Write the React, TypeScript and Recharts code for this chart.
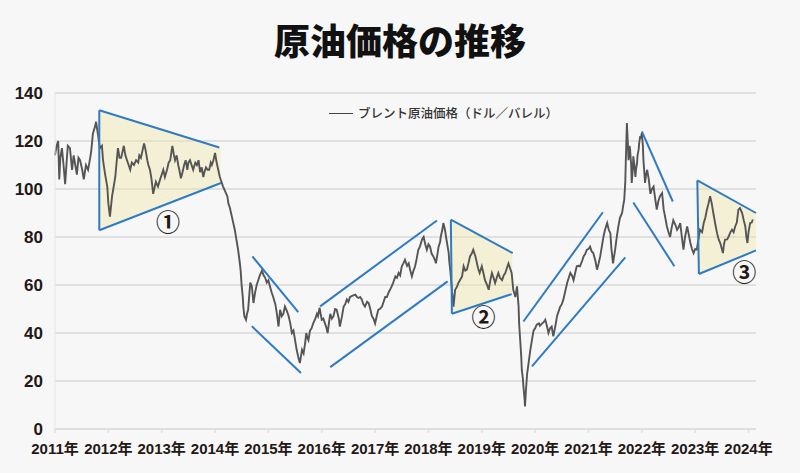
import React from "react";
import {
  ComposedChart,
  Line,
  Area,
  XAxis,
  YAxis,
  CartesianGrid,
  ReferenceLine,
  ReferenceDot,
} from "recharts";

// ブレント原油価格（ドル／バレル）: [年（小数）, 価格]
const brent2011_2013: [number, number][] = [
  [2011.0, 114], [2011.03, 118], [2011.06, 120], [2011.08, 104], [2011.1, 113], [2011.13, 117],
  [2011.16, 110], [2011.19, 102], [2011.22, 112], [2011.24, 118], [2011.28, 117], [2011.32, 108],
  [2011.35, 114], [2011.38, 110], [2011.41, 106], [2011.44, 113], [2011.47, 112], [2011.51, 108],
  [2011.54, 104], [2011.58, 110], [2011.62, 108], [2011.66, 113], [2011.68, 116], [2011.71, 123],
  [2011.75, 126], [2011.77, 128], [2011.79, 125], [2011.81, 122], [2011.84, 117], [2011.88, 118],
  [2011.9, 112], [2011.94, 106], [2011.98, 101], [2012.0, 94], [2012.03, 88.5], [2012.07, 97],
  [2012.1, 101], [2012.13, 105], [2012.15, 110], [2012.18, 117], [2012.21, 113], [2012.24, 113],
  [2012.27, 116], [2012.29, 118], [2012.32, 114], [2012.35, 112], [2012.38, 110], [2012.41, 108],
  [2012.44, 111], [2012.48, 110], [2012.52, 112], [2012.56, 111], [2012.58, 114], [2012.61, 113],
  [2012.64, 116], [2012.67, 119], [2012.7, 116], [2012.73, 112], [2012.75, 110], [2012.78, 108],
  [2012.81, 104], [2012.84, 98], [2012.87, 101], [2012.89, 103], [2012.93, 101], [2012.97, 104],
  [2013.0, 106], [2013.03, 108], [2013.06, 105], [2013.1, 108], [2013.13, 111], [2013.16, 112],
  [2013.18, 115], [2013.2, 118], [2013.23, 114], [2013.25, 112], [2013.28, 114], [2013.31, 110],
  [2013.33, 108], [2013.36, 104.5], [2013.39, 107], [2013.42, 110], [2013.45, 112], [2013.48, 108],
  [2013.5, 111], [2013.53, 112], [2013.56, 110], [2013.59, 108], [2013.63, 111], [2013.66, 110],
  [2013.69, 112], [2013.72, 107], [2013.75, 109], [2013.78, 105], [2013.8, 107], [2013.83, 109],
  [2013.86, 108], [2013.89, 108], [2013.92, 111], [2013.94, 110], [2013.97, 112],
];

const brent2014_2016: [number, number][] = [
  [2014.0, 115], [2014.03, 111], [2014.06, 108], [2014.09, 105], [2014.12, 103], [2014.15, 101],
  [2014.19, 99], [2014.23, 97], [2014.25, 94], [2014.28, 92], [2014.31, 89], [2014.34, 86],
  [2014.37, 83], [2014.4, 79], [2014.43, 75], [2014.46, 70], [2014.48, 66], [2014.5, 59.4],
  [2014.52, 55], [2014.53, 51], [2014.55, 47], [2014.58, 45.5], [2014.6, 48], [2014.62, 49.7],
  [2014.66, 61], [2014.69, 59.4], [2014.72, 52.5], [2014.75, 56.7], [2014.78, 60], [2014.81, 62],
  [2014.84, 64], [2014.88, 66], [2014.91, 64], [2014.94, 63], [2014.97, 61], [2015.0, 62],
  [2015.03, 59.4], [2015.06, 57], [2015.09, 55], [2015.13, 52], [2015.16, 48], [2015.19, 42.7],
  [2015.22, 49.7], [2015.25, 47], [2015.28, 48], [2015.31, 51], [2015.35, 49], [2015.38, 47],
  [2015.41, 44], [2015.44, 40], [2015.47, 41], [2015.5, 37], [2015.53, 33], [2015.56, 30],
  [2015.59, 27.5], [2015.63, 33], [2015.66, 31.5], [2015.69, 36], [2015.71, 40], [2015.73, 38],
  [2015.75, 37], [2015.78, 41], [2015.81, 42], [2015.84, 44], [2015.88, 46], [2015.91, 48],
  [2015.93, 47], [2015.96, 50.5], [2016.0, 45.5], [2016.03, 46], [2016.06, 44], [2016.09, 42],
  [2016.11, 40], [2016.14, 45], [2016.16, 48], [2016.19, 46], [2016.22, 47], [2016.25, 50],
  [2016.28, 49.7], [2016.32, 46], [2016.34, 42.7], [2016.38, 47], [2016.41, 51], [2016.44, 52],
  [2016.47, 54], [2016.5, 53], [2016.53, 55], [2016.57, 55.5], [2016.63, 56], [2016.66, 55],
  [2016.69, 54.6], [2016.72, 55], [2016.75, 54], [2016.78, 52], [2016.81, 51], [2016.85, 53],
  [2016.88, 52.5], [2016.91, 50], [2016.94, 47], [2016.97, 46],
];

const brent2017_2019: [number, number][] = [
  [2017.0, 44], [2017.03, 47], [2017.06, 49.7], [2017.09, 50], [2017.13, 51], [2017.16, 53],
  [2017.19, 55], [2017.22, 55], [2017.25, 56.7], [2017.28, 58], [2017.31, 59.4], [2017.34, 61],
  [2017.38, 63.6], [2017.41, 63], [2017.44, 65], [2017.47, 64], [2017.5, 67.8], [2017.53, 69],
  [2017.56, 70.5], [2017.6, 68], [2017.63, 69], [2017.66, 66], [2017.69, 63.6], [2017.72, 66],
  [2017.75, 67.8], [2017.78, 71], [2017.81, 74.7], [2017.84, 76], [2017.88, 79], [2017.91, 80],
  [2017.94, 77], [2017.97, 74.7], [2018.0, 77], [2018.03, 76], [2018.06, 73], [2018.09, 72],
  [2018.13, 70], [2018.14, 69], [2018.17, 73], [2018.19, 76], [2018.22, 78], [2018.23, 80],
  [2018.26, 83], [2018.28, 85.8], [2018.31, 83], [2018.33, 80], [2018.36, 76], [2018.38, 73.3],
  [2018.39, 70], [2018.41, 66], [2018.44, 58], [2018.47, 51], [2018.5, 58], [2018.53, 59],
  [2018.56, 60.8], [2018.59, 62], [2018.63, 63.6], [2018.66, 67.8], [2018.69, 66], [2018.72, 66.4],
  [2018.75, 69], [2018.78, 72], [2018.81, 73], [2018.84, 74.7], [2018.88, 72], [2018.91, 69],
  [2018.93, 67], [2018.96, 65], [2019.0, 67.8], [2019.03, 65], [2019.06, 62], [2019.1, 60],
  [2019.13, 58], [2019.16, 62], [2019.19, 65], [2019.22, 63], [2019.25, 60.8], [2019.28, 63],
  [2019.31, 65], [2019.34, 63], [2019.38, 62], [2019.41, 64], [2019.44, 65], [2019.47, 67],
  [2019.5, 69], [2019.53, 67], [2019.56, 65], [2019.59, 58], [2019.63, 55], [2019.66, 59.4],
  [2019.69, 51], [2019.7, 44], [2019.72, 37], [2019.74, 30], [2019.75, 24.7], [2019.77, 21],
  [2019.78, 17.8], [2019.8, 13], [2019.81, 9.4], [2019.83, 17], [2019.85, 23], [2019.88, 28],
  [2019.91, 33], [2019.94, 37], [2019.97, 41],
];

const brent2020_2022: [number, number][] = [
  [2020.0, 42], [2020.03, 43.5], [2020.07, 44], [2020.09, 43], [2020.13, 44], [2020.16, 44.5],
  [2020.19, 45.5], [2020.22, 43], [2020.25, 40], [2020.28, 42], [2020.31, 42.7], [2020.34, 38.6],
  [2020.38, 43], [2020.41, 47], [2020.44, 49], [2020.47, 51], [2020.5, 52], [2020.53, 54],
  [2020.56, 57], [2020.6, 60.8], [2020.63, 63], [2020.66, 65], [2020.69, 64], [2020.72, 62],
  [2020.75, 65], [2020.78, 67.8], [2020.81, 68], [2020.84, 67.8], [2020.88, 70], [2020.91, 72],
  [2020.94, 73], [2020.97, 74.7], [2021.0, 75], [2021.03, 76], [2021.06, 74], [2021.09, 73.3],
  [2021.13, 70], [2021.16, 66.4], [2021.19, 69], [2021.22, 72], [2021.25, 76], [2021.28, 80],
  [2021.31, 83], [2021.35, 85.8], [2021.38, 83], [2021.41, 81.6], [2021.43, 75], [2021.46, 69],
  [2021.48, 72], [2021.5, 74.7], [2021.53, 80], [2021.56, 84.4], [2021.59, 88], [2021.63, 90],
  [2021.65, 93], [2021.67, 95.5], [2021.69, 103], [2021.7, 112], [2021.72, 127.5], [2021.74, 118],
  [2021.75, 112], [2021.77, 118], [2021.78, 116.4], [2021.8, 110], [2021.81, 102.5], [2021.83, 108],
  [2021.84, 113.6], [2021.86, 110], [2021.88, 105], [2021.89, 108], [2021.91, 110.8], [2021.92, 114],
  [2021.94, 116.4], [2021.95, 119], [2021.97, 122], [2021.98, 121], [2022.0, 123.3], [2022.02, 118],
  [2022.03, 112], [2022.05, 106], [2022.06, 102.5], [2022.08, 106], [2022.1, 108], [2022.13, 104],
  [2022.16, 98], [2022.19, 100], [2022.22, 101], [2022.25, 96], [2022.28, 91.4], [2022.31, 95],
  [2022.34, 97], [2022.38, 98.3], [2022.41, 91.4], [2022.44, 88], [2022.47, 84.4], [2022.5, 82],
  [2022.53, 80], [2022.56, 84], [2022.59, 87], [2022.63, 85], [2022.66, 83], [2022.69, 84],
  [2022.72, 85.8], [2022.75, 80], [2022.78, 74.7], [2022.81, 80], [2022.85, 84.4], [2022.88, 81],
  [2022.91, 77.5], [2022.94, 75], [2022.97, 73.3],
];

const brent2023_2024: [number, number][] = [
  [2023.0, 75], [2023.03, 74.7], [2023.06, 79], [2023.09, 83], [2023.13, 82], [2023.16, 85.8],
  [2023.19, 88], [2023.22, 91.4], [2023.25, 94], [2023.28, 97], [2023.31, 94], [2023.34, 90],
  [2023.38, 85], [2023.41, 81.6], [2023.44, 79], [2023.47, 77.5], [2023.5, 75], [2023.52, 73.3],
  [2023.54, 77], [2023.56, 78.9], [2023.6, 79], [2023.63, 80.3], [2023.66, 82], [2023.69, 83],
  [2023.72, 82], [2023.75, 84.4], [2023.78, 86], [2023.81, 91.4], [2023.84, 92], [2023.88, 90],
  [2023.91, 87], [2023.94, 84.4], [2023.96, 80], [2023.98, 77.5], [2024.0, 82], [2024.03, 85.8],
  [2024.06, 86], [2024.08, 87.3],
];

const yearTicks = [2011, 2012, 2013, 2014, 2015, 2016, 2017, 2018, 2019, 2020, 2021, 2022, 2023, 2024];
const priceTicks = [0, 20, 40, 60, 80, 100, 120, 140];

// 三角保ち合い: [x, 下限, 上限] の左右端
const wedge1: [number, number, number][] = [[2011.83, 82.8, 132.8], [2014.1, 102.5, 117.3]];
const wedge2: [number, number, number][] = [[2018.43, 48, 87.2], [2019.57, 56.2, 73.3]];
const wedge3: [number, number, number][] = [[2023.05, 64.6, 103.6], [2024.14, 74.4, 90]];

// トレンドライン: [x1, y1, x2, y2]
const trendLines: [number, number, number, number][] = [
  [2011.83, 82.8, 2011.83, 132.8],
  [2011.83, 132.8, 2014.08, 117.3],
  [2011.83, 82.8, 2014.11, 102.5],
  [2014.7, 71.9, 2015.56, 48.7],
  [2014.69, 42.8, 2015.61, 23.3],
  [2015.97, 51.1, 2018.16, 86.9],
  [2016.16, 25.8, 2018.36, 61.5],
  [2018.42, 87.2, 2018.44, 48],
  [2018.42, 87.2, 2019.58, 73.3],
  [2018.44, 48, 2019.56, 56.2],
  [2019.78, 44.8, 2021.27, 90.3],
  [2019.94, 26.1, 2021.69, 71.5],
  [2022.0, 124, 2022.58, 94.8],
  [2021.84, 94.4, 2022.61, 67.8],
  [2023.04, 103.6, 2023.07, 64.6],
  [2023.04, 103.6, 2024.14, 90],
  [2023.07, 64.6, 2024.14, 74.4],
];

const wedgeLabels: [number, number, string][] = [
  [2013.12, 86.1, "①"],
  [2019.03, 46.3, "②"],
  [2023.92, 65.4, "③"],
];

const priceData = [
  ...brent2011_2013,
  ...brent2014_2016,
  ...brent2017_2019,
  ...brent2020_2022,
  ...brent2023_2024,
].map(([x, price]) => ({ x, price }));

const toBand = (w: [number, number, number][]) => w.map(([x, lo, hi]) => ({ x, band: [lo, hi] }));

const BLUE = "#2f7bc3";
const TEXT = "#231815";
const FONT = "'Liberation Sans', 'Noto Sans CJK JP', sans-serif";

export default function App() {
  return (
    <div
      style={{
        position: "absolute",
        left: 0,
        top: 0,
        width: 800,
        height: 473,
        background: "#f7f7f7",
        fontFamily: FONT,
      }}
    >
      <div
        style={{
          position: "absolute",
          top: 21,
          left: 0,
          width: 800,
          textAlign: "center",
          fontSize: 36,
          lineHeight: "36px",
          fontWeight: 900,
          color: "#111",
          fontFamily: "'Noto Sans CJK JP', sans-serif",
        }}
      >
        原油価格の推移
      </div>
      <div
        style={{
          position: "absolute",
          top: 105,
          left: 329,
          display: "flex",
          alignItems: "center",
          fontSize: 12.5,
          lineHeight: "16px",
          color: "#333",
          fontFamily: "'Noto Sans CJK JP', sans-serif",
          fontWeight: 500,
          zIndex: 2,
        }}
      >
        <span style={{ display: "inline-block", width: 24, height: 1, background: "#444", marginRight: 5 }} />
        ブレント原油価格（ドル／バレル）
      </div>
      <ComposedChart
        width={800}
        height={473}
        data={priceData}
        margin={{ top: 93, right: 44, bottom: 0, left: 0 }}
      >
        <CartesianGrid vertical={false} stroke="#d9d9d9" strokeWidth={1.3} />
        <XAxis
          dataKey="x"
          type="number"
          domain={[2011, 2024.14]}
          ticks={yearTicks}
          interval={0}
          tickFormatter={(v) => `${v}年`}
          height={44}
          stroke="#dedede"
          strokeWidth={1.3}
          tickSize={4}
          tickMargin={10}
          tick={{ fill: TEXT, fontSize: 15, fontWeight: 700, fontFamily: FONT }}
        />
        <YAxis
          type="number"
          domain={[0, 140]}
          ticks={priceTicks}
          width={55}
          stroke="#e6e6e6"
          tickLine={false}
          tickMargin={6}
          tick={{ fill: TEXT, fontSize: 17, fontWeight: 700, fontFamily: FONT }}
        />
        <Line
          dataKey="price"
          type="linear"
          stroke="#555555"
          strokeWidth={1.9}
          dot={false}
          isAnimationActive={false}
        />
        {[wedge1, wedge2, wedge3].map((w, i) => (
          <Area
            key={`w${i}`}
            data={toBand(w)}
            dataKey="band"
            type="linear"
            stroke="none"
            fill="#f0e6a6"
            fillOpacity={0.4}
            isAnimationActive={false}
          />
        ))}
        {trendLines.map(([x1, y1, x2, y2], i) => (
          <ReferenceLine
            key={`t${i}`}
            segment={[
              { x: x1, y: y1 },
              { x: x2, y: y2 },
            ]}
            stroke={BLUE}
            strokeWidth={2}
            ifOverflow="visible"
          />
        ))}
        {wedgeLabels.map(([x, y, t]) => (
          <ReferenceDot
            key={t}
            x={x}
            y={y}
            r={0.1}
            fill="none"
            stroke="none"
            ifOverflow="visible"
            label={{
              value: t,
              position: "center",
              fontSize: 24,
              fontWeight: 700,
              fill: TEXT,
              fontFamily: "'Noto Sans CJK JP', sans-serif",
            }}
          />
        ))}
      </ComposedChart>
    </div>
  );
}
